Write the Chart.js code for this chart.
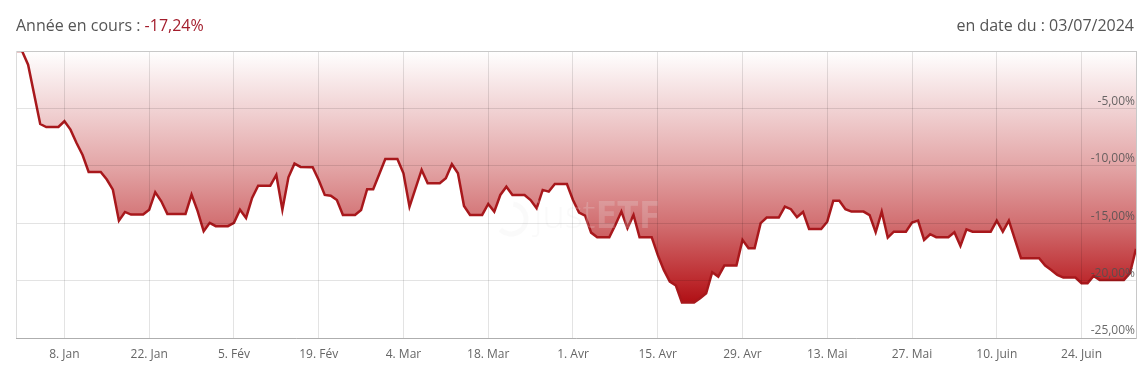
<!DOCTYPE html>
<html><head><meta charset="utf-8">
<script src="https://cdn.jsdelivr.net/npm/chart.js@4.4.1/dist/chart.umd.min.js"></script>
<style>
html,body{margin:0;padding:0;background:#fff;}
#wrap{position:relative;width:1148px;height:381px;font-family:"Open Sans",sans-serif;}
canvas{position:absolute;left:0;top:0;}
#title{position:absolute;left:16px;top:14px;font-size:16px;color:#555;white-space:nowrap;}
#title .v{color:#a31d2c;}
#date{position:absolute;right:14px;top:14px;font-size:16px;color:#555;white-space:nowrap;}
</style></head>
<body>
<div id="wrap">
<canvas id="c" width="1148" height="381"></canvas>
<div id="title">Année en cours : <span class="v">-17,24%</span></div>
<div id="date">en date du : 03/07/2024</div>
</div>
<script>
// Day of year 2024 (1 = 1 Jan; 0 = 31 Dec 2023)
const days = [0,1,2,4,5,7,8,9,10,11,12,14,15,16,17,18,19,21,22,23,24,25,28,29,30,31,32,33,35,36,37,38,39,40,42,43,44,45,46,47,49,50,51,52,53,54,56,57,58,59,61,63,64,65,67,68,70,71,72,73,74,75,77,78,79,80,81,82,84,85,86,87,88,89,91,92,93,94,95,96,98,99,100,101,102,103,105,106,107,108,109,110,112,113,114,115,116,117,119,120,121,122,123,124,126,127,128,129,130,131,133,134,135,136,137,138,140,141,142,143,144,145,147,148,149,150,151,152,154,155,156,157,158,161,162,163,164,166,169,170,171,172,173,175,176,177,178,179,183,184,185];
// Performance since start of year (%)
const perf = [0,0,-1.19,-6.36,-6.62,-6.62,-6.12,-6.85,-8.01,-9.06,-10.54,-10.54,-11.2,-12.08,-14.78,-14.02,-14.25,-14.25,-13.82,-12.3,-13.09,-14.19,-14.19,-12.51,-13.95,-15.7,-14.97,-15.26,-15.26,-14.97,-13.82,-14.54,-12.8,-11.73,-11.73,-10.8,-13.82,-11.0,-9.81,-10.1,-10.13,-11.24,-12.54,-12.6,-12.98,-14.28,-14.28,-13.85,-12.04,-12.04,-9.4,-9.4,-10.65,-13.56,-10.36,-11.52,-11.52,-11.08,-9.86,-10.65,-13.5,-14.28,-14.28,-13.32,-13.99,-12.54,-11.82,-12.54,-12.54,-12.98,-13.7,-12.1,-12.25,-11.58,-11.58,-12.98,-14.08,-14.34,-15.82,-16.22,-16.22,-15.15,-13.99,-15.43,-14.28,-16.22,-16.22,-17.76,-19.07,-20.08,-20.43,-21.91,-21.91,-21.53,-21.1,-19.27,-19.65,-18.69,-18.69,-16.45,-17.18,-17.18,-15.0,-14.51,-14.51,-13.56,-13.78,-14.48,-14.02,-15.5,-15.5,-14.87,-13.04,-13.04,-13.78,-13.99,-13.99,-14.3,-15.79,-13.99,-16.26,-15.74,-15.74,-14.95,-14.78,-16.46,-15.96,-16.22,-16.22,-15.79,-16.98,-15.53,-15.74,-15.74,-14.78,-15.74,-14.78,-18.05,-18.05,-18.69,-19.07,-19.51,-19.74,-19.74,-20.23,-20.23,-19.59,-19.94,-19.94,-19.36,-17.24];
const tickDays = [8,22,36,50,64,78,92,106,120,134,148,162,176];
const tickLabels = ['8. Jan','22. Jan','5. Fév','19. Fév','4. Mar','18. Mar','1. Avr','15. Avr','29. Avr','13. Mai','27. Mai','10. Juin','24. Juin'];
const yTicks = [0,-5,-10,-15,-20,-25];

const points = days.map((d,i)=>({x:d,y:perf[i]}));

function fillGradient(ctx){
  const chart = ctx.chart; const ca = chart.chartArea;
  if(!ca) return '#d88';
  const yb = chart.scales.y.getPixelForValue(Math.min(...perf));
  const g = chart.ctx.createLinearGradient(0, ca.top, 0, yb);
  g.addColorStop(0, '#ffffff');
  g.addColorStop(0.23, '#f1d3d4');
  g.addColorStop(0.46, '#e3a5a6');
  g.addColorStop(0.68, '#d27173');
  g.addColorStop(0.91, '#bd2b2f');
  g.addColorStop(1, '#b01015');
  return g;
}

const framePlugin = {
  id:'frame',
  afterDatasetsDraw(chart){
    const {ctx, chartArea:ca} = chart;
    ctx.save();
    const cx = (ca.left+ca.right)/2 + 20, cy = ca.top + 166;
    ctx.globalAlpha = 0.22;
    ctx.fillStyle = '#e6e6e6';
    ctx.strokeStyle = '#e6e6e6';
    ctx.lineWidth = 5;
    ctx.beginPath(); ctx.arc(cx-85, cy+2, 15, -Math.PI*0.45, Math.PI*0.75); ctx.stroke();
    ctx.textBaseline = 'middle'; ctx.textAlign = 'left';
    ctx.font = '300 38px "Open Sans"';
    ctx.fillText('just', cx-62, cy);
    const w = ctx.measureText('just').width;
    ctx.font = '700 38px "Open Sans"';
    ctx.fillText('ETF', cx-62+w, cy);
    ctx.restore();
  },
  afterDraw(chart){
    const {ctx, chartArea:ca} = chart;
    ctx.save();
    ctx.strokeStyle = '#dcdcdc'; ctx.lineWidth = 1;
    ctx.beginPath(); ctx.moveTo(ca.left+0.5, ca.top); ctx.lineTo(ca.left+0.5, ca.bottom); ctx.stroke();
    ctx.restore();
  }
};

new Chart(document.getElementById('c'), {
  type:'line',
  data:{datasets:[{
    data: points,
    borderColor:'#a8181c',
    borderWidth:2.5,
    pointRadius:0,
    tension:0,
    fill:'origin',
    backgroundColor: fillGradient
  }]},
  options:{
    responsive:false,
    animation:false,
    layout:{padding:{left:16,right:12,top:51,bottom:0}},
    plugins:{legend:{display:false},tooltip:{enabled:false}},
    scales:{
      x:{
        type:'linear', min:0, max:185,
        afterBuildTicks(s){ s.ticks = tickDays.map(v=>({value:v})); },
        afterFit(s){ s.height = 43; },
        grid:{color:'rgba(0,0,0,0.11)', drawTicks:false, z:1},
        border:{display:true,color:'#c4c4c4', z:1},
        ticks:{padding:9, color:'#666', font:{family:'"Open Sans"', size:12}, z:1,
          maxRotation:0, autoSkip:false,
          callback(v){ const i = tickDays.indexOf(v); return i<0?'':tickLabels[i]; }}
      },
      y:{
        position:'right', min:-25, max:0,
        afterBuildTicks(s){ s.ticks = yTicks.map(v=>({value:v})); },
        afterFit(s){ s.width = 0; },
        grid:{color:(c)=> c.tick && c.tick.value===0 ? '#c8c8c8' : 'rgba(0,0,0,0.11)', drawTicks:false, z:1},
        border:{display:true,color:'#c8c8c8', z:1},
        ticks:{mirror:true, padding:-1, labelOffset:-7, color:'rgba(80,80,80,0.85)', font:{family:'"Open Sans"', size:12}, z:1,
          callback(v){ return v===0 ? '' : v.toFixed(2).replace('.',',')+'%'; }}
      }
    }
  },
  plugins:[framePlugin]
});
</script>
</body></html>
